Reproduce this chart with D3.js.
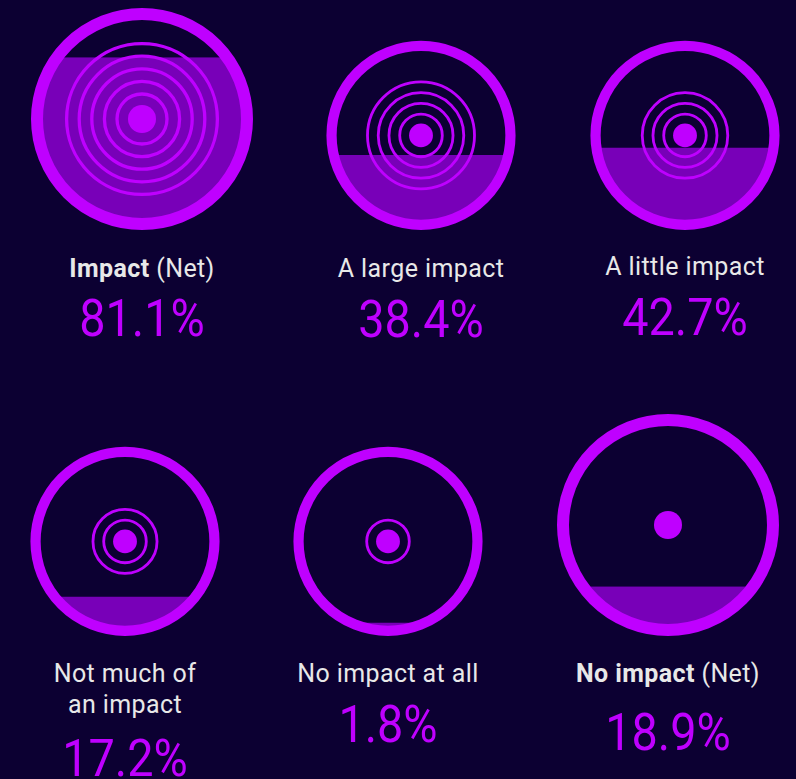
<!DOCTYPE html>
<html>
<head>
<meta charset="utf-8">
<script src="https://cdn.jsdelivr.net/npm/d3@7"></script>
<style>
  html, body { margin: 0; padding: 0; background: #0c0032; }
  svg { display: block; }
</style>
</head>
<body>
<svg id="chart" width="796" height="779"></svg>
<script>
// ---- data ----
const labelsBold = ["Impact", "", "", "", "", "No impact"];
const labelsRest = ["(Net)", "A large impact", "A little impact", "Not much of|an impact", "No impact at all", "(Net)"];
const values = [81.1, 38.4, 42.7, 17.2, 1.8, 18.9];
const ringCounts = [5, 4, 3, 2, 1, 0];
const isNet = [true, false, false, false, false, true];

// ---- layout (not data) ----
const W = 796, H = 779;
const centersX = [142, 421, 685, 125, 388, 668];
const rowBottom = [230, 230, 230, 636, 636, 636];
const labelBase = [277, 277, 275, 682, 682, 682];
const pctBase = [336, 337, 335, 776, 742, 750];

const colors = { bg: "#0c0032", ring: "#bf00ff", fill: "#7800b8", text: "#e8e8e8" };

const svg = d3.select("#chart");
svg.append("rect").attr("width", W).attr("height", H).attr("fill", colors.bg);

const defs = svg.append("defs");

const base = { R: 111, ringW: 12, dotR: 14, r0: 25, rStep: 12.6, rStroke: 3.3 };

values.forEach((v, i) => {
  const s = isNet[i] ? 1 : 0.852;
  const R = base.R * s, rw = base.ringW * s;
  const cx = centersX[i], cy = rowBottom[i] - R;
  const innerR = R - rw;
  const g = svg.append("g").attr("transform", `translate(${cx},${cy})`);

  // clip to inner circle
  const clipId = "clip" + i;
  defs.append("clipPath").attr("id", clipId)
    .append("circle").attr("r", innerR + rw / 2);

  const fillScale = d3.scaleLinear().domain([0, 100]).range([0, 2 * innerR]);
  const h = fillScale(v);
  g.append("rect")
    .attr("clip-path", `url(#${clipId})`)
    .attr("x", -R).attr("width", 2 * R)
    .attr("y", innerR - h).attr("height", h + rw)
    .attr("fill", colors.fill);

  // concentric rings
  const rings = d3.range(ringCounts[i]);
  g.selectAll("circle.cr").data(rings).join("circle")
    .attr("class", "cr")
    .attr("r", k => s * (base.r0 + base.rStep * k))
    .attr("fill", "none")
    .attr("stroke", colors.ring)
    .attr("stroke-width", base.rStroke * s);

  // center dot
  g.append("circle").attr("r", base.dotR * s).attr("fill", colors.ring);

  // outer ring
  g.append("circle").attr("r", R - rw / 2)
    .attr("fill", "none").attr("stroke", colors.ring).attr("stroke-width", rw);

  // label
  const lines = labelsRest[i].split("|");
  lines.forEach((ln, j) => {
    const t = svg.append("text")
      .attr("x", cx).attr("y", labelBase[i] + j * 31)
      .attr("text-anchor", "middle")
      .attr("font-family", "Roboto, sans-serif")
      .attr("font-size", 25)
      .attr("letter-spacing", 0.4)
      .attr("fill", colors.text);
    if (j === 0 && labelsBold[i]) {
      t.append("tspan").attr("font-weight", 700).text(labelsBold[i] + " ");
    }
    t.append("tspan").text(ln);
  });

  // percent
  svg.append("text")
    .attr("transform", `translate(${cx},${pctBase[i]}) scale(0.9,1)`)
    .attr("text-anchor", "middle")
    .attr("font-family", "Roboto, sans-serif")
    .attr("font-weight", 400)
    .attr("font-size", 52)
    .attr("fill", colors.ring)
    .text(d3.format(".1f")(v) + "%");
});
</script>
</body>
</html>
